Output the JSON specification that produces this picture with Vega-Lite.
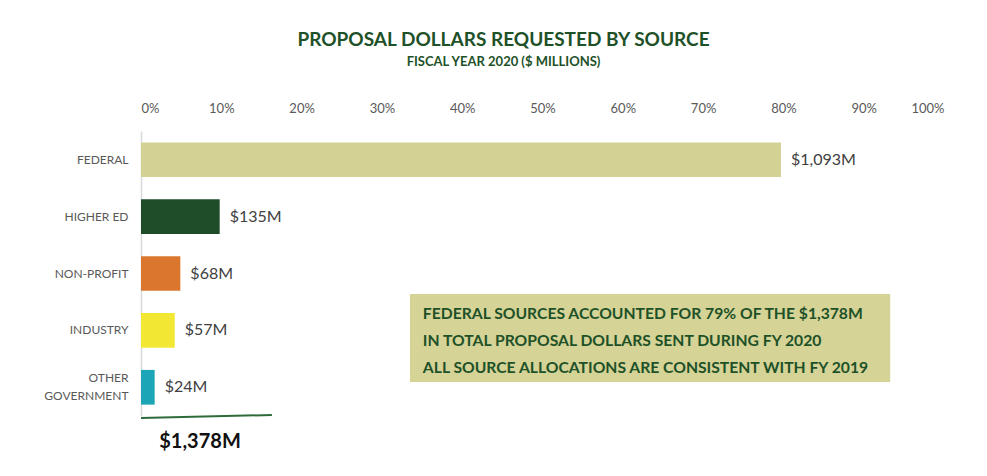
{
  "$schema": "https://vega.github.io/schema/vega-lite/v6.json",
  "width": 803,
  "height": 285,
  "autosize": {"type": "none"},
  "padding": {"left": 141, "top": 131, "right": 43, "bottom": 60},
  "background": "white",
  "config": {"view": {"stroke": null}, "font": "Lato"},
  "title": {
    "text": "PROPOSAL DOLLARS REQUESTED BY SOURCE",
    "subtitle": "FISCAL YEAR 2020 ($ MILLIONS)",
    "anchor": "middle",
    "dx": -39,
    "offset": 33,
    "color": "#1E5128",
    "subtitleColor": "#1E5128",
    "font": "Lato",
    "subtitleFont": "Lato",
    "fontSize": 19,
    "fontWeight": "bold",
    "subtitleFontSize": 13,
    "subtitleFontWeight": "bold",
    "subtitlePadding": 6
  },
  "datasets": {
    "sources": [
      {"source": "FEDERAL", "dollars": 1093, "share": 0.797, "label": "$1,093M"},
      {"source": "HIGHER ED", "dollars": 135, "share": 0.098, "label": "$135M"},
      {"source": "NON-PROFIT", "dollars": 68, "share": 0.049, "label": "$68M"},
      {"source": "INDUSTRY", "dollars": 57, "share": 0.042, "label": "$57M"},
      {"source": "OTHER GOVERNMENT", "dollars": 24, "share": 0.017, "label": "$24M"}
    ],
    "box": [{"x0": 0.335, "x1": 0.933, "y0": 163, "y1": 251}],
    "notes": [
      {"text": "FEDERAL SOURCES ACCOUNTED FOR 79% OF THE $1,378M", "x": 0.351, "y": 183},
      {"text": "IN TOTAL PROPOSAL DOLLARS SENT DURING FY 2020", "x": 0.351, "y": 210},
      {"text": "ALL SOURCE ALLOCATIONS ARE CONSISTENT WITH FY 2019", "x": 0.351, "y": 237}
    ],
    "totalLine": [{"x0": 0.0, "x1": 0.163, "y0": 287, "y1": 284}],
    "total": [{"text": "$1,378M", "x": 0.0735, "y": 311}]
  },
  "layer": [
    {
      "data": {"name": "sources"},
      "encoding": {
        "y": {
          "field": "source", "type": "nominal", "sort": null,
          "scale": {"paddingInner": 0.39, "paddingOuter": 0.2},
          "axis": {
            "title": null, "ticks": false, "domain": true, "domainColor": "#D9D9D9", "domainWidth": 1.5,
            "labelColor": "#595959", "labelFont": "Lato", "labelFontSize": 12, "labelPadding": 13,
            "labelExpr": "datum.label == 'OTHER GOVERNMENT' ? ['OTHER', 'GOVERNMENT'] : datum.label",
            "labelLineHeight": 18,
            "labelOffset": {"condition": {"test": "datum.value == 'OTHER GOVERNMENT'", "value": -9}, "value": 0}
          }
        },
        "x": {
          "field": "share", "type": "quantitative",
          "scale": {"domain": [0, 1], "nice": false},
          "axis": {
            "orient": "top", "title": null, "format": ".0%", "values": [0, 0.1, 0.2, 0.3, 0.4, 0.5, 0.6, 0.7, 0.8, 0.9, 1],
            "grid": false, "ticks": false, "domain": false,
            "labelColor": "#595959", "labelFont": "Lato", "labelFontSize": 13, "labelPadding": 16
          }
        }
      },
      "layer": [
        {
          "mark": {"type": "bar"},
          "encoding": {
            "color": {
              "field": "source", "type": "nominal", "legend": null,
              "scale": {
                "domain": ["FEDERAL", "HIGHER ED", "NON-PROFIT", "INDUSTRY", "OTHER GOVERNMENT"],
                "range": ["#D4D194", "#1F4D2A", "#DB762E", "#F2E833", "#1CA4B7"]
              }
            }
          }
        },
        {
          "mark": {"type": "text", "align": "left", "dx": 10, "fontSize": 16, "color": "#404040", "font": "Lato"},
          "encoding": {"text": {"field": "label"}}
        }
      ]
    },
    {
      "layer": [
        {
          "data": {"name": "box"},
          "mark": {"type": "rect", "color": "#D5D396"},
          "encoding": {
            "x": {"field": "x0", "type": "quantitative"},
            "x2": {"field": "x1"},
            "y": {"field": "y0", "type": "quantitative", "scale": {"domain": [0, 285], "reverse": true, "nice": false}, "axis": null},
            "y2": {"field": "y1"}
          }
        },
        {
          "data": {"name": "notes"},
          "mark": {"type": "text", "align": "left", "baseline": "middle", "fontSize": 15.7, "fontWeight": "bold", "color": "#1E5128", "font": "Lato"},
          "encoding": {
            "x": {"field": "x", "type": "quantitative"},
            "y": {"field": "y", "type": "quantitative", "axis": null},
            "text": {"field": "text"}
          }
        },
        {
          "data": {"name": "totalLine"},
          "mark": {"type": "rule", "color": "#2E6B3A", "strokeWidth": 2},
          "encoding": {
            "x": {"field": "x0", "type": "quantitative"},
            "x2": {"field": "x1"},
            "y": {"field": "y0", "type": "quantitative", "axis": null},
            "y2": {"field": "y1"}
          }
        },
        {
          "data": {"name": "total"},
          "mark": {"type": "text", "align": "center", "baseline": "middle", "fontSize": 20, "fontWeight": "bold", "color": "#111111", "font": "Lato"},
          "encoding": {
            "x": {"field": "x", "type": "quantitative"},
            "y": {"field": "y", "type": "quantitative", "axis": null},
            "text": {"field": "text"}
          }
        }
      ]
    }
  ],
  "resolve": {"scale": {"y": "independent"}}
}
